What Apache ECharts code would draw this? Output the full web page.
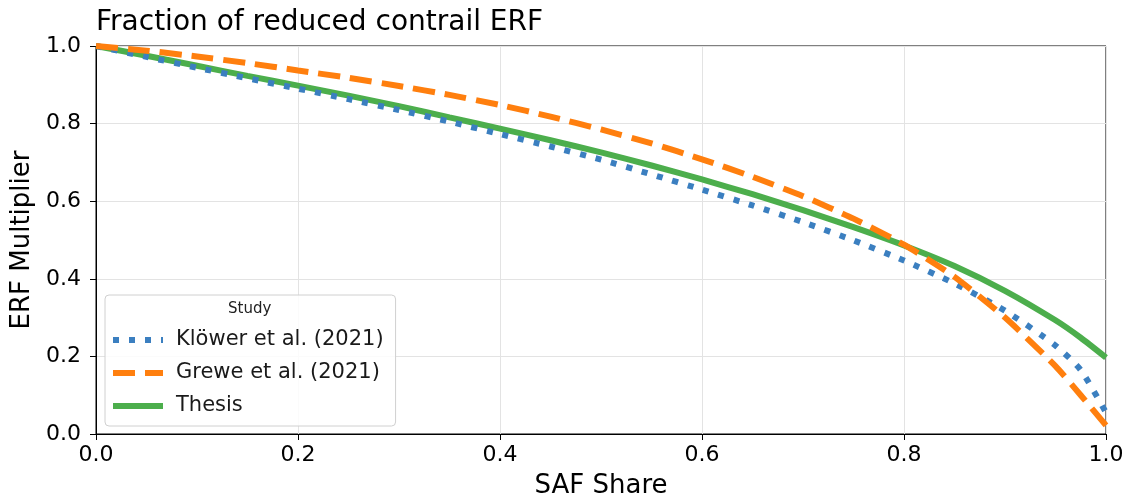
<!DOCTYPE html>
<html>
<head>
<meta charset="utf-8">
<script src="https://cdn.jsdelivr.net/npm/echarts@6/dist/echarts.min.js"></script>
<style>html,body{margin:0;padding:0;background:#fff;}#c{width:1129px;height:497px;}</style>
</head>
<body>
<div id="c"></div>
<script>
const xs = [0, 0.05, 0.1, 0.15, 0.2, 0.25, 0.3, 0.35, 0.4, 0.45, 0.5, 0.55, 0.6, 0.65, 0.7, 0.75, 0.8, 0.85, 0.9, 0.95, 0.975, 1.0];
const klower = [1.0, 0.972, 0.944, 0.917, 0.890, 0.863, 0.835, 0.805, 0.773, 0.741, 0.707, 0.669, 0.630, 0.589, 0.546, 0.499, 0.447, 0.388, 0.318, 0.228, 0.165, 0.055];
const grewe = [1.0, 0.988, 0.973, 0.956, 0.937, 0.918, 0.897, 0.874, 0.848, 0.818, 0.785, 0.749, 0.708, 0.663, 0.613, 0.555, 0.488, 0.405, 0.300, 0.175, 0.100, 0.022];
const thesis = [1.0, 0.975, 0.949, 0.923, 0.898, 0.872, 0.845, 0.816, 0.787, 0.757, 0.726, 0.692, 0.656, 0.618, 0.577, 0.533, 0.486, 0.433, 0.369, 0.293, 0.248, 0.197];
const seriesNames = ['Klöwer et al. (2021)', 'Grewe et al. (2021)', 'Thesis'];
const titleText = 'Fraction of reduced contrail ERF';
const xName = 'SAF Share';
const yName = 'ERF Multiplier';
const legendTitle = 'Study';

const pairs = ys => xs.map((x, i) => [x, ys[i]]);
const FONT = 'DejaVu Sans';
const chart = echarts.init(document.getElementById('c'), null, {renderer: 'canvas'});
const axisCommon = {
  type: 'value', min: 0, max: 1, interval: 0.2,
  axisLine: {show: true, lineStyle: {color: '#000', width: 1}},
  axisTick: {show: true, inside: false, length: 6, lineStyle: {color: '#000'}},
  splitLine: {show: true, lineStyle: {color: '#e3e3e3', width: 1}},
  axisLabel: {color: '#000', fontFamily: FONT, fontSize: 22, formatter: v => v.toFixed(1)},
  nameTextStyle: {color: '#000', fontFamily: FONT, fontSize: 26}
};
chart.setOption({
  animation: false,
  backgroundColor: '#fff',
  title: {text: titleText, left: 91, top: 4, textStyle: {fontFamily: FONT, fontSize: 28, fontWeight: 'normal', color: '#000'}},
  grid: {left: 96, right: 23, top: 46, bottom: 63, show: true, borderColor: '#000', borderWidth: 1,
    containLabel: false, outerBoundsMode: 'none'},
  xAxis: Object.assign({}, axisCommon, {name: xName, nameLocation: 'middle', nameGap: 39,
    axisLabel: Object.assign({}, axisCommon.axisLabel, {margin: 10})}),
  yAxis: Object.assign({}, axisCommon, {name: yName, nameLocation: 'middle', nameGap: 48, nameRotate: 90,
    axisLabel: Object.assign({}, axisCommon.axisLabel, {margin: 15})}),
  legend: {
    orient: 'vertical', left: 105, top: 295,
    padding: [34, 12, 9, 5], itemGap: 11, itemWidth: 50, itemHeight: 14,
    backgroundColor: 'rgba(255,255,255,0.85)', borderColor: '#d0d0d0', borderWidth: 1, borderRadius: 4,
    itemStyle: {opacity: 0},
    lineStyle: {width: 6},
    textStyle: {fontFamily: FONT, fontSize: 21, lineHeight: 22, color: '#1a1a1a', padding: [0, 0, 0, 8]},
    data: seriesNames
  },
  graphic: [{type: 'text', left: 228, top: 302, style: {text: legendTitle, font: '15px "DejaVu Sans"', fill: '#222'}, z: 100}],
  series: [
    {name: seriesNames[0], type: 'line', data: pairs(klower), showSymbol: false, symbol: 'none', smooth: 0.2,
      lineStyle: {color: '#3b7fc0', width: 6, type: [6, 10], cap: 'butt'}, itemStyle: {color: '#3b7fc0'}, z: 2},
    {name: seriesNames[1], type: 'line', data: pairs(grewe), showSymbol: false, symbol: 'none', smooth: 0.2,
      lineStyle: {color: '#ff7f0e', width: 6, type: [22, 10], cap: 'butt'}, itemStyle: {color: '#ff7f0e'}, z: 3},
    {name: seriesNames[2], type: 'line', data: pairs(thesis), showSymbol: false, symbol: 'none', smooth: 0.2,
      lineStyle: {color: '#4cae4c', width: 6}, itemStyle: {color: '#4cae4c'}, z: 1}
  ]
});
</script>
</body>
</html>
